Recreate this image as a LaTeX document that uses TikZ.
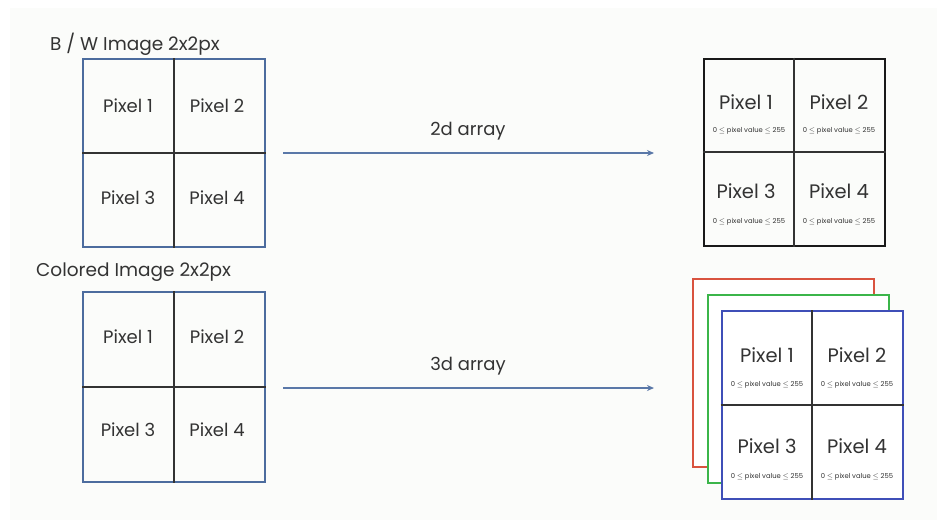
\documentclass[tikz,border=0pt]{standalone}
\usepackage{fontspec}
\setmainfont{Poppins}
\usetikzlibrary{arrows.meta,positioning}
\definecolor{txt}{HTML}{333333}
\definecolor{gblue}{HTML}{4C6C9E}
\definecolor{arrowc}{HTML}{5A78A8}
\definecolor{sred}{HTML}{D9533F}
\definecolor{sgreen}{HTML}{3BB54A}
\definecolor{sblue}{HTML}{3F4FB8}
\definecolor{bgc}{HTML}{FBFCFA}
\tikzset{
  lbl/.style={text=txt,font=\fontsize{18}{20}\selectfont,inner sep=0pt},
  big/.style={text=txt,font=\fontsize{19.5}{21}\selectfont,inner sep=0pt},
  title/.style={text=txt,font=\fontsize{18.5}{20}\selectfont,inner sep=0pt,anchor=west},
  small/.style={text=txt,font=\fontsize{6.8}{7}\selectfont,inner sep=0pt},
  midline/.style={draw=black!80,line width=1.3pt},
  conn/.style={draw=arrowc,line width=1.8pt,-{Stealth[length=7pt,width=6pt]}},
}
\begin{document}
\begin{tikzpicture}[x=1pt,y=-1pt]
\useasboundingbox (0,0) rectangle (937,531);
\fill[white] (0,0) rectangle (937,531);
\fill[bgc] (10,8) rectangle (937,520);
% ---------- BW left ----------
\node[title] (t1) at (50,44) {B / W Image 2x2px};
\node[draw=gblue,line width=2pt,minimum width=182pt,minimum height=188pt,inner sep=0pt] (bw) at (174,153) {};
\draw[midline] (bw.north) -- (bw.south);
\draw[midline] (bw.west) -- (bw.east);
\node[lbl] (bw1) at (128,106) {Pixel 1};
\node[lbl] (bw2) at (217,106) {Pixel 2};
\node[lbl] (bw3) at (128,198) {Pixel 3};
\node[lbl] (bw4) at (217,198) {Pixel 4};
% ---------- Colored left ----------
\node[title] (t2) at (36,272) {Colored Image 2x2px};
\node[draw=gblue,line width=2pt,minimum width=182pt,minimum height=190pt,inner sep=0pt] (co) at (174,387) {};
\draw[midline] (co.north) -- (co.south);
\draw[midline] (co.west) -- (co.east);
\node[lbl] (co1) at (128,337) {Pixel 1};
\node[lbl] (co2) at (217,337) {Pixel 2};
\node[lbl] (co3) at (128,430) {Pixel 3};
\node[lbl] (co4) at (217,430) {Pixel 4};
% ---------- BW right ----------
\node[draw=black!90,line width=2pt,minimum width=181pt,minimum height=187pt,inner sep=0pt] (ar) at (794,152) {};
\draw[midline] (ar.north) -- (ar.south);
\draw[midline] (ar.west) -- (ar.east);
\node[big] (ar1) at (746,102) {Pixel 1};
\node[big] (ar2) at (839,102) {Pixel 2};
\node[big] (ar3) at (746,191) {Pixel 3};
\node[big] (ar4) at (839,191) {Pixel 4};
\node[small] (as1) at (749,131) {0 $\le$ pixel value $\le$ 255};
\node[small] (as2) at (839,131) {0 $\le$ pixel value $\le$ 255};
\node[small] (as3) at (749,222) {0 $\le$ pixel value $\le$ 255};
\node[small] (as4) at (839,222) {0 $\le$ pixel value $\le$ 255};
% ---------- colored stack right ----------
\node[draw=sred,fill=white,line width=2pt,minimum width=181pt,minimum height=188pt,inner sep=0pt] (rl) at (783,373) {};
\node[draw=sgreen,fill=white,line width=2pt,minimum width=181pt,minimum height=188pt,inner sep=0pt] (gl) at (798,389) {};
\node[draw=sblue,fill=white,line width=2pt,minimum width=181pt,minimum height=188pt,inner sep=0pt] (bl) at (812,405) {};
\draw[midline] (bl.north) -- (bl.south);
\draw[midline] (bl.west) -- (bl.east);
\node[big] (bl1) at (767,355) {Pixel 1};
\node[big] (bl2) at (857,355) {Pixel 2};
\node[big] (bl3) at (767,446) {Pixel 3};
\node[big] (bl4) at (857,446) {Pixel 4};
\node[small] (bs1) at (767,385) {0 $\le$ pixel value $\le$ 255};
\node[small] (bs2) at (857,385) {0 $\le$ pixel value $\le$ 255};
\node[small] (bs3) at (767,477) {0 $\le$ pixel value $\le$ 255};
\node[small] (bs4) at (857,477) {0 $\le$ pixel value $\le$ 255};
% ---------- arrows ----------
\coordinate (a1s) at (283,153);
\coordinate (a1e) at (654,153);
\draw[conn] (a1s) -- (a1e);
\node[lbl] (l1) at (468,131) {2d array};
\coordinate (a2s) at (283,388);
\coordinate (a2e) at (654,388);
\draw[conn] (a2s) -- (a2e);
\node[lbl] (l2) at (468,366) {3d array};
\end{tikzpicture}
\end{document}
